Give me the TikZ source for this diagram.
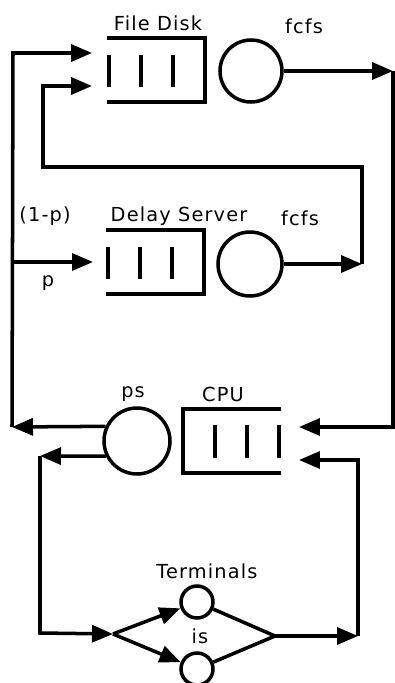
\documentclass[tikz,border=0pt]{standalone}
\usepackage{fontspec}
\setmainfont[LetterSpace=6]{DejaVu Sans}
\usetikzlibrary{arrows.meta}

\begin{document}
\begin{tikzpicture}[x=0.02cm, y=-0.02cm,
    wall/.style={line width=2pt},
    line/.style={line width=2pt, line join=miter},
    flow/.style={line width=2pt, line join=miter, -{Triangle[length=0.42cm, width=0.34cm]}},
    queue/.style={rectangle, minimum width=1.96cm, minimum height=1.28cm, inner sep=0pt, outer sep=0pt},
    server/.style={circle, draw, line width=2pt, minimum size=1.24cm, inner sep=0pt},
    term/.style={circle, draw, line width=2pt, minimum size=0.64cm, inner sep=0pt},
    lbl/.style={font=\fontsize{11}{13}\selectfont, inner sep=0pt}]
\useasboundingbox (0,0) rectangle (395,683);
% stations
\node[queue] (fdq) at (156,70) {};
\node[server] (fds) at (251,71) {};
\node[queue] (dq) at (155,262) {};
\node[server, minimum size=1.28cm] (dss) at (250,264) {};
\node[queue] (cpuq) at (232,441) {};
\node[server, minimum size=1.32cm] (ps) at (137,441) {};
\node[term] (t1) at (197,602) {};
\node[term] (t2) at (197,669) {};
% queue walls
\draw[wall] (fdq.north west) -- (fdq.north east) -- (fdq.south east) -- (fdq.south west);
\draw[wall] (dq.north west) -- (dq.north east) -- (dq.south east) -- (dq.south west);
\draw[wall] (cpuq.north east) -- (cpuq.north west) -- (cpuq.south west) -- (cpuq.south east);
\foreach \d in {0.04,0.68,1.32} {
  \draw[wall] ([xshift=\d cm, yshift=-0.34cm]fdq.north west) -- ++(0,-0.64cm);
  \draw[wall] ([xshift=\d cm, yshift=-0.34cm]dq.north west) -- ++(0,-0.64cm);
  \draw[wall] ([xshift=-\d cm, yshift=-0.32cm]cpuq.north east) -- ++(0,-0.66cm);
}
% labels
\node[lbl] (fdlbl) at (158,23) {File Disk};
\node[lbl] (fdfcfs) at (304,26) {fcfs};
\node[lbl] (dlbl) at (179,216) {Delay Server};
\node[lbl] (dfcfs) at (300,218) {fcfs};
\node[lbl] (onemp) at (45,216) {(1-p)};
\node[lbl] (plbl) at (48,283) {p};
\node[lbl] (pslbl) at (133,394) {ps};
\node[lbl] (cpulbl) at (223,394) {CPU};
\node[lbl] (termlbl) at (207,571) {Terminals};
\node[lbl] (islbl) at (200,636) {is};
% corners
\coordinate (tl) at (13,53);
\coordinate (bl) at (12,427);
\coordinate (pl) at (13,262);
\coordinate (il) at (43,86);
\coordinate (ib) at (43,167);
\coordinate (ir) at (362,167);
\coordinate (dout) at (362,264);
\coordinate (tr) at (393,71);
\coordinate (cr) at (393,427);
\coordinate (ll) at (40,456);
\coordinate (lb) at (40,633);
\coordinate (fork) at (113,634);
\coordinate (join) at (275,636);
\coordinate (rr) at (358,636);
\coordinate (rt) at (358,460);
% connectors
\draw[flow] (fds) -- (tr);
\draw[flow, shorten >=0.36cm] (tr) -- (cr) -- (cpuq.east |- cr);
\draw[flow] (dss) -- (dout);
\draw[flow, shorten >=0.3cm] (dout) -- (ir) -- (ib) -- (il) -- (fdq.west |- il);
\draw[flow] (ps.155) -- (bl);
\draw[flow, shorten >=0.3cm] (bl) -- (tl) -- (fdq.west |- tl);
\draw[flow, shorten >=0.26cm] (pl) -- (dq.west |- pl);
\draw[flow] (ps.206) -- (ll);
\draw[flow] (ll) -- (lb) -- (fork);
\draw[flow] (fork) -- (t1);
\draw[flow] (fork) -- (t2);
\draw[line] (t1) -- (join) -- (t2);
\draw[flow] (join) -- (rr);
\draw[flow, shorten >=0.36cm] (rr) -- (rt) -- (cpuq.east |- rt);
\end{tikzpicture}
\end{document}
